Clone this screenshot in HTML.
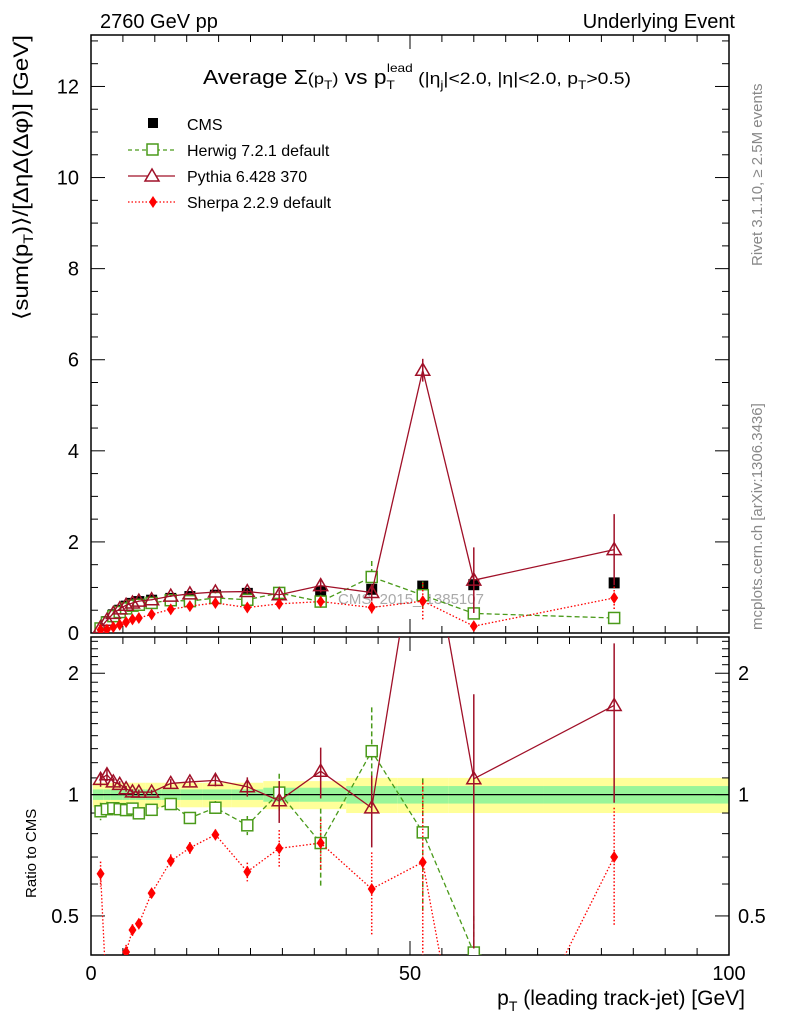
<!DOCTYPE html>
<html><head><meta charset="utf-8"><style>
html,body{margin:0;background:#fff;overflow:hidden;width:786px;height:1024px;}
svg{display:block;font-family:"Liberation Sans",sans-serif;}
</style></head><body>
<svg id="c" width="786" height="1024" viewBox="0 0 786 1024" xmlns="http://www.w3.org/2000/svg">
<text x="100" y="28" font-size="20">2760 GeV pp</text>
<text x="735" y="28" font-size="20" text-anchor="end">Underlying Event</text>
<text x="203" y="84" font-size="20" textLength="428" lengthAdjust="spacingAndGlyphs">Average Σ<tspan font-size="16">(p</tspan><tspan font-size="12" dy="5">T</tspan><tspan font-size="16" dy="-5">)</tspan> vs p<tspan font-size="12" dy="5">T</tspan><tspan font-size="12" dy="-17" dx="-7">lead</tspan><tspan font-size="17" dy="12"> (|η</tspan><tspan font-size="12" dy="5">j</tspan><tspan font-size="17" dy="-5">|&lt;2.0, |η|&lt;2.0, p</tspan><tspan font-size="12" dy="5">T</tspan><tspan font-size="17" dy="-5">&gt;0.5)</tspan></text>
<g>
<rect x="148" y="118" width="10" height="10" fill="#000"/>
<text x="187" y="130" font-size="16">CMS</text>
<line x1="128" y1="150" x2="175" y2="150" stroke="#4a9a1a" stroke-dasharray="4,3" stroke-width="1.3"/>
<rect x="147" y="144" width="11" height="11" fill="#fff" stroke="#4a9a1a" stroke-width="1.5"/>
<text x="187" y="156" font-size="16">Herwig 7.2.1 default</text>
<line x1="128" y1="176" x2="175" y2="176" stroke="#a01028" stroke-width="1.3"/>
<polygon points="152,169 145,181 159,181" fill="#fff" stroke="#a01028" stroke-width="1.5"/>
<text x="187" y="182" font-size="16">Pythia 6.428 370</text>
<line x1="128" y1="202" x2="175" y2="202" stroke="#f00" stroke-dasharray="1.5,2" stroke-width="1.3"/>
<polygon points="153,196 157,202 153,208 149,202" fill="#f00"/>
<text x="187" y="208" font-size="16">Sherpa 2.2.9 default</text>
</g>
<text transform="translate(762,266) rotate(-90)" font-size="15" fill="#888">Rivet 3.1.10, ≥ 2.5M events</text>
<text transform="translate(762,630) rotate(-90)" font-size="15" fill="#888">mcplots.cern.ch [arXiv:1306.3436]</text>
<text transform="translate(28,320) rotate(-90)" font-size="21" textLength="285" lengthAdjust="spacingAndGlyphs">⟨sum(p<tspan font-size="14" dy="5">T</tspan><tspan dy="-5">)⟩/[ΔηΔ(Δφ)] [GeV]</tspan></text>
<text transform="translate(36,898) rotate(-90)" font-size="15">Ratio to CMS</text>
<text x="745" y="1005" font-size="21" text-anchor="end">p<tspan font-size="14" dy="6">T</tspan><tspan dy="-6"> (leading track-jet) [GeV]</tspan></text>
<text x="338" y="604" font-size="15" fill="#aaa">CMS_2015_I1385107</text>
<g id="plot"></g>
</svg>
<script>
const xs=[1.5,2.5,3.5,4.5,5.5,6.5,7.5,9.5,12.5,15.5,19.5,24.5,29.5,36,44,52,60,82];
const cms=[0.11,0.25,0.40,0.50,0.59,0.65,0.69,0.72,0.76,0.80,0.83,0.87,0.87,0.91,0.96,1.03,1.06,1.10];
const herwig=[0.10,0.23,0.37,0.46,0.54,0.60,0.62,0.66,0.72,0.70,0.77,0.73,0.88,0.69,1.23,0.83,0.43,0.33];
const herwigErr=[0.005,0.01,0.01,0.01,0.01,0.01,0.01,0.01,0.02,0.02,0.03,0.04,0.1,0.15,0.35,0.3,0.1,0.05];
const pythia=[0.12,0.28,0.43,0.53,0.61,0.66,0.70,0.73,0.81,0.86,0.90,0.91,0.84,1.04,0.89,5.77,1.16,1.83];
const pythiaErr=[0.005,0.01,0.01,0.01,0.01,0.01,0.01,0.01,0.02,0.02,0.03,0.05,0.1,0.15,0.18,0.25,0.72,0.78];
const sherpa=[0.07,0.075,0.13,0.18,0.24,0.30,0.33,0.41,0.52,0.59,0.66,0.56,0.64,0.69,0.56,0.70,0.15,0.77];
const sherpaErr=[0.005,0.005,0.01,0.01,0.01,0.01,0.01,0.01,0.02,0.02,0.02,0.03,0.07,0.1,0.13,0.4,0.05,0.25];
const cmsStat=[0.03,0.03,0.03,0.03,0.03,0.03,0.03,0.03,0.03,0.03,0.03,0.03,0.04,0.04,0.05,0.05,0.05,0.05];
const cmsTot=[0.07,0.07,0.07,0.07,0.07,0.07,0.07,0.07,0.07,0.07,0.07,0.07,0.08,0.08,0.1,0.1,0.1,0.1];
const yTicks=[0,2,4,6,8,10,12];
const rTicks=[0.5,1,2];
const xTicks=[0,50,100];

const L=91,R=729,T1=35,B1=633,T2=637,B2=955;
const X=v=>L+(R-L)*v/100;
const Y=v=>B1-(B1-T1)*v/13.13;
const rMin=0.4,rMax=2.46;
const Yr=v=>B2-(B2-T2)*(Math.log(v)-Math.log(rMin))/(Math.log(rMax)-Math.log(rMin));
const NS="http://www.w3.org/2000/svg";
const g=document.getElementById('plot');
function el(tag,attrs,parent){const e=document.createElementNS(NS,tag);for(const k in attrs)e.setAttribute(k,attrs[k]);(parent||g).appendChild(e);return e;}

const defs=el('defs',{});
const c1=el('clipPath',{id:'c1'},defs);el('rect',{x:L,y:T1,width:R-L,height:B1-T1},c1);
const c2=el('clipPath',{id:'c2'},defs);el('rect',{x:L,y:T2,width:R-L,height:B2-T2},c2);

const band=el('g',{'clip-path':'url(#c2)'});


for(let i=0;i<xs.length;i++){
  const x0=i==0?X(0.3):X((xs[i-1]+xs[i])/2), x1=i==xs.length-1?X(100):X((xs[i]+xs[i+1])/2);
  el('rect',{x:x0,y:Yr(1+cmsTot[i]),width:x1-x0,height:Yr(1-cmsTot[i])-Yr(1+cmsTot[i]),fill:'#ffff99'},band);
  el('rect',{x:x0,y:Yr(1+cmsStat[i]),width:x1-x0,height:Yr(1-cmsStat[i])-Yr(1+cmsStat[i]),fill:'#99f599'},band);
}
el('line',{x1:L,x2:R,y1:Yr(1),y2:Yr(1),stroke:'#000','stroke-width':1.2});

el('rect',{x:L,y:T1,width:R-L,height:B1-T1,fill:'none',stroke:'#000','stroke-width':1.5});
el('rect',{x:L,y:T2,width:R-L,height:B2-T2,fill:'none',stroke:'#000','stroke-width':1.5});

for(let v=0;v<=100;v+=5){
  const maj=v%50==0, len=maj?14:7;
  [[B1,-1],[T1,1],[B2,-1],[T2,1]].forEach(([y,d])=>el('line',{x1:X(v),x2:X(v),y1:y,y2:y+d*len,stroke:'#000'}));
}
xTicks.forEach(v=>{const t=el('text',{x:X(v),y:980,'font-size':20,'text-anchor':'middle'});t.textContent=v;

});
for(let v=0;v<=13;v+=0.5){
  const maj=v%2==0,len=maj?14:7;
  el('line',{x1:L,x2:L+len,y1:Y(v),y2:Y(v),stroke:'#000'});
  el('line',{x1:R,x2:R-len,y1:Y(v),y2:Y(v),stroke:'#000'});
}
yTicks.forEach(v=>{const t=el('text',{x:79,y:Y(v)+7,'font-size':20,'text-anchor':'end'});t.textContent=v;

});
for(let k=5;k<=24;k++){
  const v=k/10, maj=(k==5||k==10||k==20), len=maj?14:7;
  el('line',{x1:L,x2:L+len,y1:Yr(v),y2:Yr(v),stroke:'#000'});
  el('line',{x1:R,x2:R-len,y1:Yr(v),y2:Yr(v),stroke:'#000'});
}
el('line',{x1:L,x2:L+7,y1:Yr(0.4),y2:Yr(0.4),stroke:'#000'});
rTicks.forEach(v=>{
  const a=el('text',{x:79,y:Yr(v)+7,'font-size':20,'text-anchor':'end'});a.textContent=v;
  
  
  const b=el('text',{x:738,y:Yr(v)+7,'font-size':20});b.textContent=v;
  
  
});

function series(name,vals,errs,color,dash,marker,ratio){
  const clip=ratio?'url(#c2)':'url(#c1)';
  const gg=el('g',{'clip-path':clip});
  
  
  const yf=ratio?(v,i)=>Yr(Math.max(v/cms[i],0.05)):(v)=>Y(v);
  if(color){
    el('polyline',{points:vals.map((v,i)=>X(xs[i])+','+yf(v,i)).join(' '),fill:'none',stroke:color,'stroke-width':1.3,'stroke-dasharray':dash||'none'},gg);
  }
  vals.forEach((v,i)=>{
    const x=X(xs[i]),y=yf(v,i);
    if(errs){
      const e=errs[i];
      el('line',{x1:x,x2:x,y1:yf(v+e,i),y2:yf(Math.max(v-e,0.001),i),stroke:color||'#000','stroke-width':1.5,'stroke-dasharray':dash||'none'},gg);
    }
    let m;
    if(marker=='sq') m=el('rect',{x:x-5.5,y:y-5.5,width:11,height:11,fill:'#fff',stroke:color,'stroke-width':1.5},gg);
    else if(marker=='fsq') m=el('rect',{x:x-5.5,y:y-5.5,width:11,height:11,fill:'#000'},gg);
    else if(marker=='tri') m=el('polygon',{points:`${x},${y-7} ${x-7},${y+5} ${x+7},${y+5}`,fill:'none',stroke:color,'stroke-width':1.5},gg);
    else m=el('polygon',{points:`${x},${y-6} ${x+4},${y} ${x},${y+6} ${x-4},${y}`,fill:color},gg);
    
    
  });
}
series('cms',cms,null,null,null,'fsq',false);
series('herwig',herwig,herwigErr,'#4a9a1a','5,3','sq',false);
series('pythia',pythia,pythiaErr,'#a01028',null,'tri',false);
series('sherpa',sherpa,sherpaErr,'#f00','1.5,2','dia',false);
series('herwig',herwig,herwigErr,'#4a9a1a','5,3','sq',true);
series('pythia',pythia,pythiaErr,'#a01028',null,'tri',true);
series('sherpa',sherpa,sherpaErr,'#f00','1.5,2','dia',true);
</script>
</body></html>
